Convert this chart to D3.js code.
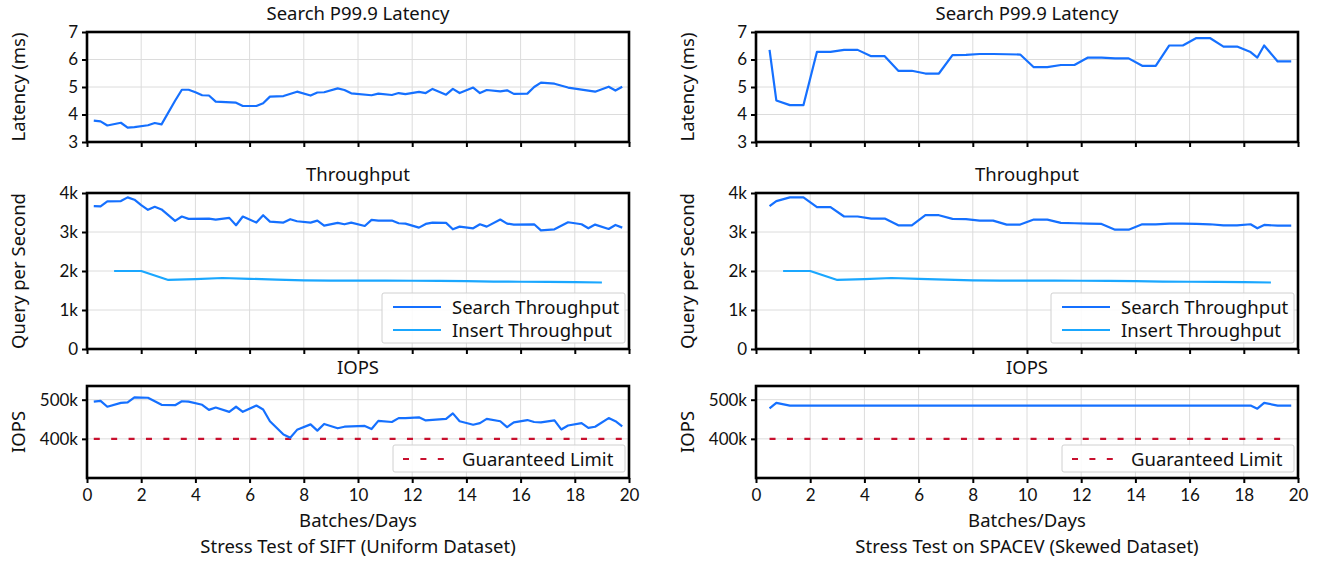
<!DOCTYPE html>
<html>
<head>
<meta charset="utf-8">
<script src="https://cdn.jsdelivr.net/npm/d3@7"></script>
<style>
  body { margin: 0; background: #fff; }
  svg text { font-family: "Noto Sans", "Lato", sans-serif; fill: #111; }
</style>
</head>
<body>
<script>
// ---- data ----
const xTicks = [0, 2, 4, 6, 8, 10, 12, 14, 16, 18, 20]
const latencyTicks = [3, 4, 5, 6, 7]
const throughputTicks = [0, 1000, 2000, 3000, 4000]
const iopsTicks = [400000, 500000]
const guaranteedLimit = 400000

// SIFT (uniform)
const siftLatencyX = [0.25,0.5,0.75,1.25,1.5,1.75,2.25,2.5,2.75,3.25,3.5,3.75,4,4.25,4.5,4.75,5.5,5.75,6.25,6.5,6.75,7.25,7.75,8.25,8.5,8.75,9.25,9.5,9.75,10.5,10.75,11.25,11.5,11.75,12.25,12.5,12.75,13.25,13.5,13.75,14.25,14.5,14.75,15.25,15.5,15.75,16.25,16.5,16.75,17.25,17.75,18.75,19.25,19.5,19.75]
const siftLatencyY = [3.78,3.75,3.60,3.70,3.52,3.54,3.61,3.69,3.64,4.50,4.90,4.90,4.81,4.70,4.69,4.47,4.43,4.31,4.31,4.41,4.65,4.67,4.83,4.69,4.80,4.81,4.95,4.89,4.77,4.70,4.76,4.71,4.78,4.74,4.82,4.78,4.93,4.72,4.93,4.78,4.98,4.78,4.89,4.84,4.88,4.75,4.76,5.00,5.16,5.12,4.98,4.83,5.01,4.87,5.01]

const siftSearchX = [0.25,0.5,0.75,1.25,1.5,1.75,2,2.25,2.5,2.75,3.25,3.5,3.75,4.5,4.75,5.25,5.5,5.75,6.25,6.5,6.75,7.25,7.5,7.75,8.25,8.5,8.75,9.25,9.5,9.75,10.25,10.5,10.75,11.25,11.5,11.75,12.25,12.5,12.75,13.25,13.5,13.75,14.25,14.5,14.75,15.25,15.5,15.75,16.5,16.75,17.25,17.75,18.25,18.5,18.75,19.25,19.5,19.75]
const siftSearchY = [3664,3655,3784,3793,3888,3828,3690,3569,3647,3578,3284,3397,3336,3345,3319,3362,3172,3397,3241,3431,3267,3241,3328,3276,3241,3293,3164,3233,3198,3241,3155,3310,3293,3293,3224,3216,3112,3207,3241,3233,3069,3138,3095,3198,3138,3319,3216,3190,3198,3043,3069,3250,3198,3095,3190,3078,3181,3112]

const siftInsertX = [1,2,3,4,5,6,7,8,9,10,11,12,13,14,15,16,17,18,19]
const siftInsertY = [2000,2000,1770,1790,1820,1800,1780,1760,1755,1755,1755,1750,1745,1740,1730,1725,1720,1715,1705]

const siftIopsX = [0.25,0.5,0.75,1.25,1.5,1.75,2.25,2.75,3.25,3.5,3.75,4.25,4.5,4.75,5.25,5.5,5.75,6.25,6.5,6.75,7.25,7.5,7.75,8.25,8.5,8.75,9.25,9.5,10.25,10.5,10.75,11.25,11.5,11.75,12.25,12.5,13.25,13.5,13.75,14.25,14.5,14.75,15.25,15.5,15.75,16.25,16.5,16.75,17.25,17.5,17.75,18.25,18.5,18.75,19.25,19.5,19.75]
const siftIopsY = [495,497,482,492,493,506,505,487,486,496,495,487,474,480,469,482,469,485,475,445,411,403,423,437,421,438,427,431,433,425,446,443,453,453,455,447,451,465,445,436,440,451,445,430,442,448,443,442,447,424,434,440,428,431,453,445,432].map(v => v * 1000)

// SPACEV (skewed)
const spacevX = [0.5,0.75,1.25,1.75,2.25,2.75,3.25,3.75,4.25,4.75,5.25,5.75,6.25,6.75,7.25,7.75,8.25,8.75,9.25,9.75,10.25,10.75,11.25,11.75,12.25,12.75,13.25,13.75,14.25,14.75,15.25,15.75,16.25,16.75,17.25,17.75,18.25,18.5,18.75,19.25,19.75]
const spacevLatencyY = [6.35,4.51,4.34,4.34,6.28,6.28,6.35,6.35,6.12,6.12,5.59,5.59,5.49,5.49,6.16,6.17,6.20,6.20,6.19,6.18,5.72,5.72,5.80,5.80,6.07,6.07,6.04,6.04,5.77,5.77,6.51,6.51,6.78,6.78,6.47,6.47,6.27,6.07,6.51,5.93,5.93]
const spacevSearchY = [3664,3793,3888,3888,3638,3638,3397,3397,3345,3345,3172,3172,3431,3431,3336,3328,3293,3293,3190,3190,3319,3319,3233,3224,3216,3207,3060,3060,3198,3198,3216,3216,3207,3198,3172,3172,3198,3095,3181,3164,3164]

const spacevInsertX = [1,2,3,4,5,6,7,8,9,10,11,12,13,14,15,16,17,18,19]
const spacevInsertY = [2000,2000,1770,1790,1820,1800,1780,1760,1755,1755,1755,1750,1745,1740,1730,1725,1720,1715,1705]

const spacevIopsX = [0.5,0.75,1.25,18.25,18.5,18.75,19.25,19.75]
const spacevIopsY = [478,492,485,485,477,492,485,485].map(v => v * 1000)

const searchColor = '#1570ff'
const insertColor = '#1aa7ff'
const limitColor = '#c8102e'

// ---- layout ----
const W = 1327, H = 561
const plotW = 542
const rows = {
  lat: {top: 32, h: 110},
  thr: {top: 193, h: 156},
  iops: {top: 386, h: 92}
}
const labelSize = '18.5px'

const svg = d3.select('body').append('svg')
  .attr('width', W)
  .attr('height', H)

const zip = (xs, ys) => xs.map((x, i) => [x, ys[i]])

function panel(g, left, row, yDomain, yTicks, yFmt, title, yLabel, series, showXLabels) {
  const x = d3.scaleLinear().domain([0, 20]).range([left, left + plotW])
  const y = d3.scaleLinear().domain(yDomain).range([row.top + row.h, row.top])

  // grid
  g.append('g').selectAll('line').data(xTicks.slice(1, -1)).enter().append('line')
    .attr('x1', d => x(d)).attr('x2', d => x(d))
    .attr('y1', row.top).attr('y2', row.top + row.h)
    .attr('stroke', '#dcdcdc').attr('stroke-width', 1)
  g.append('g').selectAll('line').data(yTicks).enter().append('line')
    .attr('x1', left).attr('x2', left + plotW)
    .attr('y1', d => y(d)).attr('y2', d => y(d))
    .attr('stroke', '#dcdcdc').attr('stroke-width', 1)

  // series
  const line = d3.line().x(d => x(d[0])).y(d => y(d[1]))
  series.forEach(s => {
    g.append('path')
      .datum(s.data)
      .attr('d', line)
      .attr('fill', 'none')
      .attr('stroke', s.color)
      .attr('stroke-width', 2.2)
      .attr('stroke-dasharray', s.dash || null)
      .attr('stroke-linejoin', 'round')
  })

  // axes
  const yAxis = g.append('g')
    .attr('transform', 'translate(' + left + ',0)')
    .call(d3.axisLeft(y).tickValues(yTicks).tickFormat(yFmt).tickSize(5).tickPadding(4))
  const xAxis = g.append('g')
    .attr('transform', 'translate(0,' + (row.top + row.h) + ')')
    .call(d3.axisBottom(x).tickValues(xTicks).tickSize(5).tickPadding(6)
      .tickFormat(showXLabels ? d3.format('d') : ''))
  ;[yAxis, xAxis].forEach(a => {
    a.select('.domain').remove()
    a.selectAll('line').attr('stroke', '#000').attr('stroke-width', 2)
    a.selectAll('text').attr('font-size', '17px').attr('fill', '#111')
      .style('font-family', '"Lato", "Noto Sans", sans-serif')
  })

  // frame
  g.append('rect')
    .attr('x', left).attr('y', row.top)
    .attr('width', plotW).attr('height', row.h)
    .attr('fill', 'none').attr('stroke', '#000').attr('stroke-width', 2.6)

  g.append('text')
    .attr('x', left + plotW / 2).attr('y', row.top - 12)
    .attr('text-anchor', 'middle').attr('font-size', labelSize)
    .text(title)

  g.append('text')
    .attr('transform', 'translate(' + (left - 62) + ',' + (row.top + row.h / 2) + ') rotate(-90)')
    .attr('text-anchor', 'middle').attr('font-size', labelSize)
    .text(yLabel)

  return {x, y}
}

function legend(g, right, bottom, items) {
  const rowH = 23
  const boxW = items.w, boxH = items.list.length * rowH + 4
  const bx = right - boxW - 4, by = bottom - boxH - 6
  g.append('rect')
    .attr('x', bx).attr('y', by).attr('width', boxW).attr('height', boxH)
    .attr('rx', 2).attr('fill', '#fff').attr('fill-opacity', 0.85)
    .attr('stroke', '#d0d0d0').attr('stroke-width', 1)
  items.list.forEach((it, i) => {
    const cy = by + 14 + i * rowH
    g.append('line')
      .attr('x1', bx + items.pad).attr('x2', bx + items.pad + 48)
      .attr('y1', cy).attr('y2', cy)
      .attr('stroke', it.color).attr('stroke-width', 2.2)
      .attr('stroke-dasharray', it.dash || null)
    g.append('text')
      .attr('x', bx + items.pad + 59).attr('y', cy)
      .attr('dy', '0.36em').attr('font-size', labelSize)
      .text(it.label)
  })
}

const kFmt = d => d === 0 ? '0' : (d / 1000) + 'k'

const columns = [
  {
    left: 87,
    caption: 'Stress Test of SIFT (Uniform Dataset)',
    latency: zip(siftLatencyX, siftLatencyY),
    search: zip(siftSearchX, siftSearchY),
    insert: zip(siftInsertX, siftInsertY),
    iops: zip(siftIopsX, siftIopsY),
    limitX: [siftIopsX[0], siftIopsX[siftIopsX.length - 1]]
  },
  {
    left: 756,
    caption: 'Stress Test on SPACEV (Skewed Dataset)',
    latency: zip(spacevX, spacevLatencyY),
    search: zip(spacevX, spacevSearchY),
    insert: zip(spacevInsertX, spacevInsertY),
    iops: zip(spacevIopsX, spacevIopsY),
    limitX: [spacevIopsX[0], spacevIopsX[spacevIopsX.length - 1]]
  }
]

columns.forEach(c => {
  const g = svg.append('g')

  panel(g, c.left, rows.lat, [3, 7], latencyTicks, d3.format('d'),
    'Search P99.9 Latency', 'Latency (ms)',
    [{data: c.latency, color: searchColor}], false)

  panel(g, c.left, rows.thr, [0, 4000], throughputTicks, kFmt,
    'Throughput', 'Query per Second',
    [{data: c.insert, color: insertColor}, {data: c.search, color: searchColor}], false)
  legend(g, c.left + plotW, rows.thr.top + rows.thr.h, {
    w: 243, pad: 11,
    list: [
      {label: 'Search Throughput', color: searchColor},
      {label: 'Insert Throughput', color: insertColor}
    ]
  })

  const limitData = c.limitX.map(x => [x, guaranteedLimit])
  panel(g, c.left, rows.iops, [300000, 535000], iopsTicks, kFmt,
    'IOPS', 'IOPS',
    [{data: limitData, color: limitColor, dash: '6,11.4'}, {data: c.iops, color: searchColor}], true)
  legend(g, c.left + plotW, rows.iops.top + rows.iops.h, {
    w: 232, pad: 10,
    list: [{label: 'Guaranteed Limit', color: limitColor, dash: '6,11.4'}]
  })

  g.append('text')
    .attr('x', c.left + plotW / 2).attr('y', 527)
    .attr('text-anchor', 'middle').attr('font-size', labelSize)
    .text('Batches/Days')
  g.append('text')
    .attr('x', c.left + plotW / 2).attr('y', 553)
    .attr('text-anchor', 'middle').attr('font-size', labelSize)
    .text(c.caption)
})
</script>
</body>
</html>
